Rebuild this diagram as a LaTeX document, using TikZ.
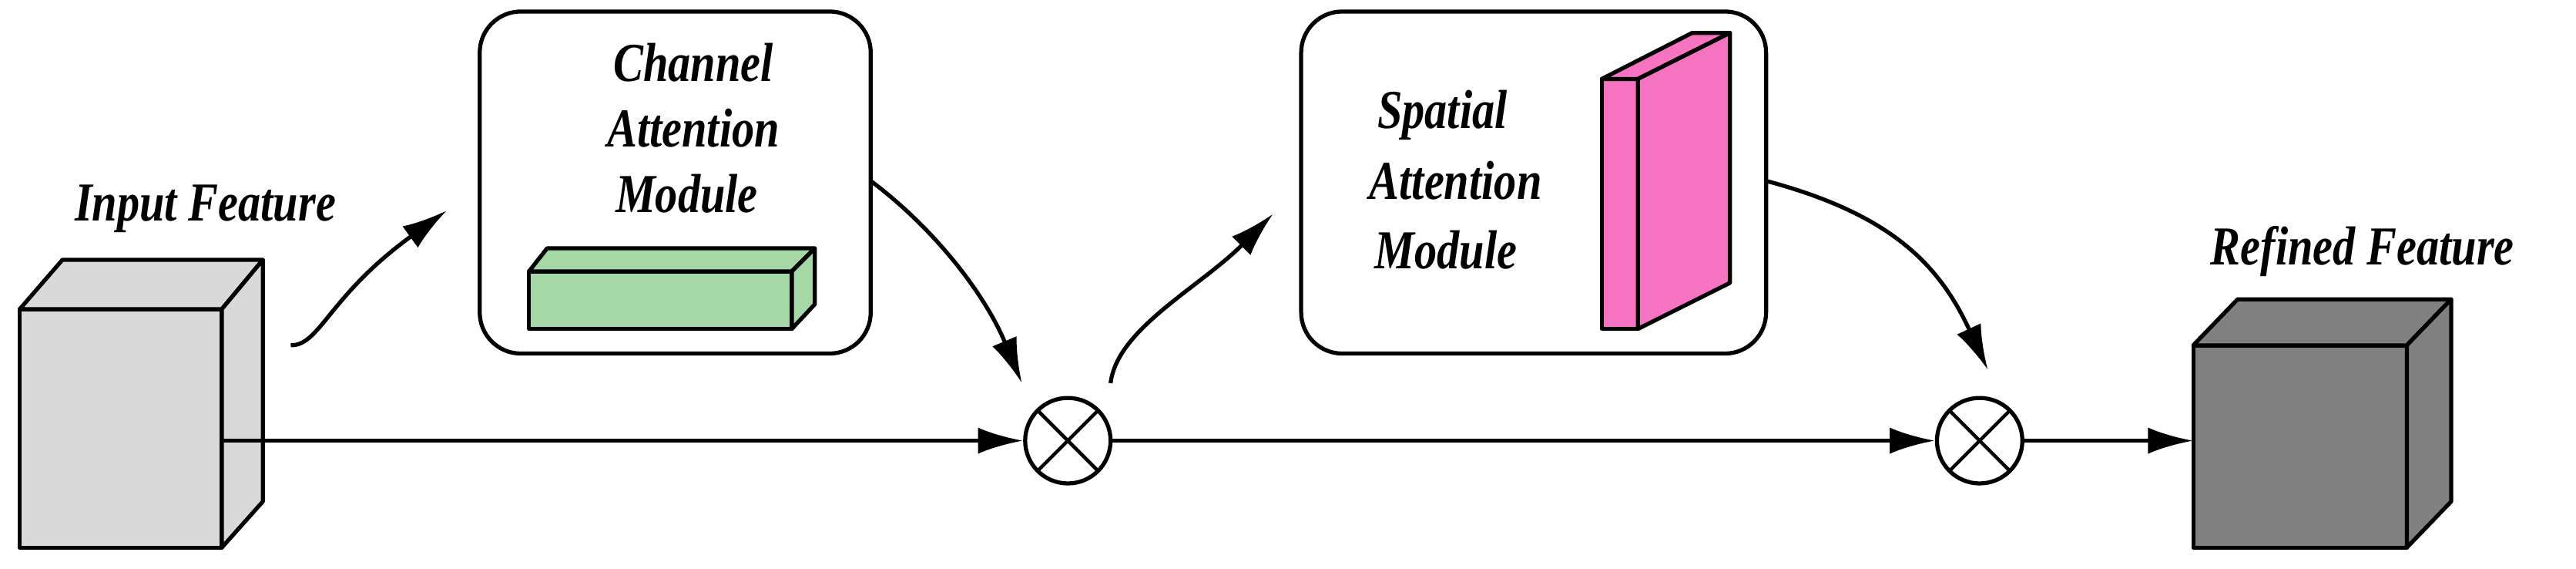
\documentclass[tikz,border=0pt]{standalone}
\usepackage{fontspec}
\setmainfont{Liberation Serif}[FakeStretch=0.82]
\usetikzlibrary{arrows.meta}
\begin{document}
\begin{tikzpicture}[x=0.02cm,y=-0.02cm,line width=1.4pt,line join=round,
  lab/.style={font=\fontsize{19}{22}\selectfont\bfseries\itshape,align=center},
  arr/.style={-{Latex[length=0.55cm,width=0.32cm]}},
  box/.style={draw,rounded corners=0.5cm,line width=1.4pt},
  ot/.style={draw,circle,minimum size=1.04cm,inner sep=0pt,path picture={
    \draw[line width=1.2pt] (path picture bounding box.south west)--(path picture bounding box.north east)
      (path picture bounding box.north west)--(path picture bounding box.south east);}}]
\useasboundingbox (0,0) rectangle (1568,346);
% input cube
\filldraw[fill=black!15] (12,188) rectangle (135,333);
\filldraw[fill=black!15] (12,188)--(38,158)--(160,158)--(135,188)--cycle;
\filldraw[fill=black!15] (135,188)--(160,158)--(160,305)--(135,333)--cycle;
\coordinate (inR) at (177,210);
\coordinate (inM) at (135,268);
\node[lab] (inlab) at (125,127) {Input Feature};
% channel box
\draw[box] (292,7) rectangle (530,215);
\node (cbox) at (411,111) {};
\node[lab] (c1) at (422,38) {Channel};
\node[lab] (c2) at (422,78) {Attention};
\node[lab] (c3) at (418,118) {Module};
\filldraw[fill=green!35!olive!45!white,fill=green!55!black!35] (322,165) rectangle (482,200);
\filldraw[fill=green!55!black!35] (322,165)--(333,151)--(496,151)--(482,165)--cycle;
\filldraw[fill=green!55!black!35] (482,165)--(496,151)--(496,185)--(482,200)--cycle;
% spatial box
\draw[box] (792,7) rectangle (1075,215);
\node[lab] (s1) at (878,70) {Spatial};
\node[lab] (s2) at (886,110) {Attention};
\node[lab] (s3) at (880,152) {Module};
\filldraw[fill=magenta!55] (975,48) rectangle (997,200);
\filldraw[fill=magenta!55] (975,48)--(1030,20)--(1053,20)--(997,48)--cycle;
\filldraw[fill=magenta!55] (997,48)--(1053,20)--(1053,172)--(997,200)--cycle;
% otimes
\node[ot] (m1) at (650,268) {};
\node[ot] (m2) at (1205,268) {};
% refined cube
\filldraw[fill=black!50] (1335,210) rectangle (1465,333);
\filldraw[fill=black!50] (1335,210)--(1362,182)--(1492,182)--(1465,210)--cycle;
\filldraw[fill=black!50] (1465,210)--(1492,182)--(1492,305)--(1465,333)--cycle;
\coordinate (rf) at (1335,268);
\node[lab] (rlab) at (1438,153) {Refined Feature};
% connectors
\coordinate (a1s) at (177,210);
\coordinate (a1e) at (272,128);
\draw[arr] (a1s) .. controls (195,210) and (200,180) .. (a1e);
\coordinate (a2s) at (530,110);
\draw[arr] (a2s) .. controls (570,140) and (600,180) .. (622,233);
\coordinate (a3s) at (676,233);
\draw[arr] (a3s) .. controls (680,200) and (730,175) .. (775,130);
\coordinate (a4s) at (1075,110);
\draw[arr] (a4s) .. controls (1150,130) and (1180,160) .. (1210,225);
\draw[arr] (inM) -- (m1);
\draw[arr] (m1) -- (m2);
\draw[arr] (m2) -- (rf);
\end{tikzpicture}
\end{document}
